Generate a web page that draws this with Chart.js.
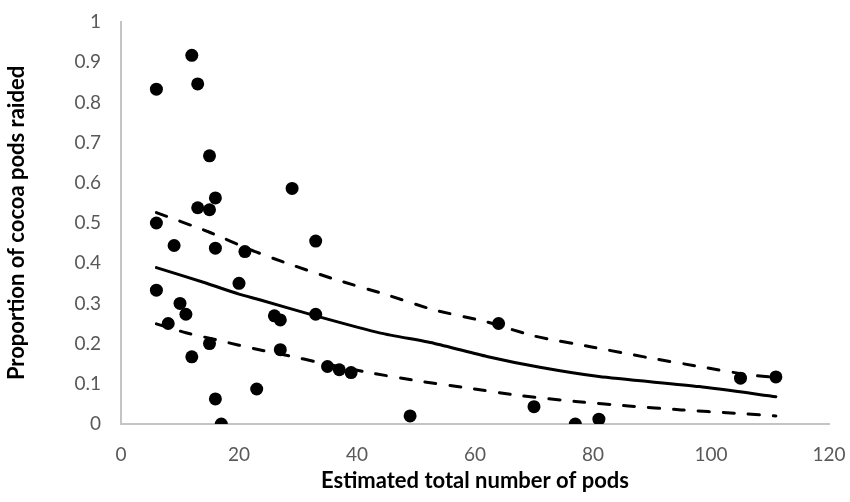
<!DOCTYPE html>
<html>
<head>
<meta charset="utf-8">
<script src="https://cdn.jsdelivr.net/npm/chart.js@4.4.1/dist/chart.umd.min.js"></script>
<style>
  html, body { margin: 0; padding: 0; background: #fff; }
</style>
</head>
<body>
<canvas id="chart" width="850" height="502"></canvas>
<script>
(function () {
  'use strict';

  // observed plots: total pods vs proportion raided
  const podTotals = [6, 12, 13, 15, 29, 16, 13, 15, 6, 9, 16, 21, 33, 20, 6, 10, 11, 26, 27, 33,
    8, 15, 27, 12, 35, 37, 39, 23, 16, 17, 64, 49, 70, 77, 81, 105, 111];
  const propRaided = [0.833, 0.917, 0.846, 0.667, 0.586, 0.5625, 0.538, 0.533, 0.5, 0.444, 0.4375, 0.429, 0.455, 0.35, 0.333, 0.3, 0.273, 0.269, 0.259, 0.273,
    0.25, 0.2, 0.185, 0.167, 0.143, 0.135, 0.128, 0.087, 0.0625, 0, 0.25, 0.02, 0.043, 0, 0.012, 0.114, 0.117];

  // fitted curve
  const fitX = [6, 14.5, 20, 23.5, 33, 44, 53, 62, 71, 81, 98, 111];
  const fitY = [0.389, 0.350, 0.323, 0.309, 0.269, 0.226, 0.201, 0.168, 0.141, 0.118, 0.093, 0.068];

  // upper / lower confidence band
  const upperX = [6, 15, 22, 27.5, 36, 44.7, 53, 62, 70, 80, 89, 98, 106.5, 111];
  const upperY = [0.526, 0.477, 0.433, 0.403, 0.361, 0.323, 0.284, 0.254, 0.219, 0.191, 0.166, 0.143, 0.122, 0.116];
  const lowerX = [6, 11, 16, 20, 24, 29, 33, 42, 50, 59, 68, 77, 86, 95, 104, 111];
  const lowerY = [0.249, 0.227, 0.210, 0.196, 0.183, 0.168, 0.155, 0.128, 0.108, 0.089, 0.070, 0.056, 0.045, 0.035, 0.027, 0.020];

  const xTickLabels = ['0', '20', '40', '60', '80', '100', '120'];
  const yTickLabels = ['0', '0.1', '0.2', '0.3', '0.4', '0.5', '0.6', '0.7', '0.8', '0.9', '1'];

  const AXIS_GREY = '#c4c4c4';
  const TICK_GREY = '#595959';
  const FONT = 'Lato, "Open Sans", sans-serif';

  function pairs(xs, ys) {
    return xs.map(function (x, i) { return { x: x, y: ys[i] }; });
  }

  function curve(xs, ys, dash) {
    return {
      type: 'line',
      data: pairs(xs, ys),
      borderColor: '#000',
      borderWidth: 3,
      borderDash: dash,
      borderCapStyle: 'round',
      pointRadius: 0,
      fill: false,
      tension: 0.2,
      order: 2
    };
  }

  new Chart(document.getElementById('chart'), {
    type: 'scatter',
    data: {
      datasets: [
        {
          data: pairs(podTotals, propRaided),
          backgroundColor: '#000',
          borderColor: '#000',
          borderWidth: 0,
          pointRadius: 6.5,
          order: 1
        },
        curve(fitX, fitY, []),
        curve(upperX, upperY, [11, 14]),
        curve(lowerX, lowerY, [11, 14])
      ]
    },
    options: {
      responsive: false,
      animation: false,
      layout: { padding: { top: 22, right: 21, left: 0, bottom: 0 } },
      plugins: {
        legend: { display: false },
        tooltip: { enabled: false }
      },
      scales: {
        x: {
          type: 'linear',
          min: 0,
          max: 120,
          grid: { display: false, drawTicks: false },
          border: { display: true, color: AXIS_GREY, width: 2 },
          ticks: {
            stepSize: 20,
            padding: 19,
            color: TICK_GREY,
            font: { family: FONT, size: 19 },
            callback: function (v, i) { return xTickLabels[i]; }
          },
          title: {
            display: true,
            text: 'Estimated total number of pods',
            color: '#000',
            font: { family: FONT, size: 22, weight: 'bold' },
            padding: { top: 6, bottom: 8 }
          },
          afterFit: function (s) {
            s.height = 502 - 424;
            s.paddingLeft = 0;
            s.paddingRight = 0;
          }
        },
        y: {
          type: 'linear',
          min: 0,
          max: 1,
          grid: { display: false, drawTicks: false },
          border: { display: true, color: AXIS_GREY, width: 2 },
          ticks: {
            stepSize: 0.1,
            padding: 20,
            color: TICK_GREY,
            font: { family: FONT, size: 19 },
            callback: function (v, i) { return yTickLabels[i]; }
          },
          title: {
            display: true,
            text: 'Proportion of cocoa pods raided',
            color: '#000',
            font: { family: FONT, size: 22, weight: 'bold' },
            padding: { top: 4, bottom: 4 }
          },
          afterFit: function (s) {
            s.width = 121;
            s.paddingTop = 0;
            s.paddingBottom = 0;
          }
        }
      }
    }
  });
})();
</script>
</body>
</html>
